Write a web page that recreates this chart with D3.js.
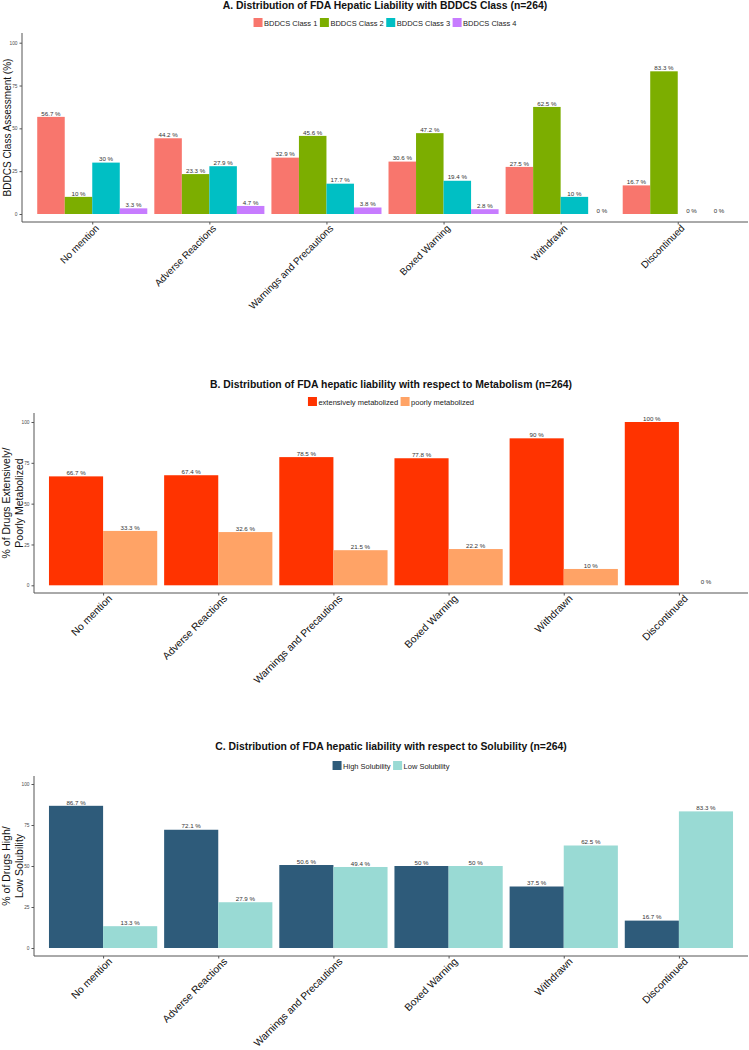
<!DOCTYPE html>
<html>
<head>
<meta charset="utf-8">
<script src="https://cdn.jsdelivr.net/npm/d3@7"></script>
<style>
html,body{margin:0;padding:0;background:#fff;}
svg{display:block;font-family:"Liberation Sans",Arial,Helvetica,sans-serif;}
</style>
</head>
<body>
<svg id="chart" width="749" height="1050"></svg>
<script>
const categories = ["No mention","Adverse Reactions","Warnings and Precautions","Boxed Warning","Withdrawn","Discontinued"];
const yTicks = [0,25,50,75,100];

const seriesA = ["BDDCS Class 1","BDDCS Class 2","BDDCS Class 3","BDDCS Class 4"];
const class1 = [56.7,44.2,32.9,30.6,27.5,16.7];
const class2 = [10,23.3,45.6,47.2,62.5,83.3];
const class3 = [30,27.9,17.7,19.4,10,0];
const class4 = [3.3,4.7,3.8,2.8,0,0];

const seriesB = ["extensively metabolized","poorly metabolized"];
const extensively = [66.7,67.4,78.5,77.8,90,100];
const poorly = [33.3,32.6,21.5,22.2,10,0];

const seriesC = ["High Solubility","Low Solubility"];
const highSol = [86.7,72.1,50.6,50,37.5,16.7];
const lowSol = [13.3,27.9,49.4,50,62.5,83.3];

const svg = d3.select("#chart");

function panel(cfg){
  const g = svg.append("g");
  const x = d3.scalePoint().domain(categories).range([cfg.left, cfg.right]).padding(0.6);
  const step = x.step();
  const gw = step*0.94;
  const xs = d3.scaleBand().domain(cfg.series).range([-gw/2, gw/2]).padding(0);
  const y = d3.scaleLinear().domain([0,100]).range([cfg.y0, cfg.y100]);
  const color = d3.scaleOrdinal().domain(cfg.series).range(cfg.colors);

  // title
  g.append("text").attr("x",(cfg.left+cfg.right)/2).attr("y",cfg.titleY)
    .attr("text-anchor","middle").attr("font-weight","bold").attr("font-size",cfg.titleSize)
    .attr("fill","#111").text(cfg.title);

  // legend
  const lg = g.append("g");
  let lx = 0;
  cfg.series.forEach(s=>{
    const it = lg.append("g").attr("transform",`translate(${lx},0)`);
    it.append("rect").attr("x",0).attr("y",cfg.legendY).attr("width",9).attr("height",9).attr("fill",color(s));
    const t = it.append("text").attr("x",10.5).attr("y",cfg.legendY+7.5).attr("font-size",7.5).attr("fill","#222").text(s);
    const w = t.node().getComputedTextLength();
    lx += 10.5 + w + 2.5;
  });
  const totalW = lx - 2.5;
  lg.attr("transform",`translate(${(cfg.left+cfg.right)/2 - totalW/2},0)`);

  // bars
  const rows = [];
  categories.forEach((c,i)=>{
    cfg.series.forEach((s,j)=>{ rows.push({c, s, v: cfg.values[j][i]}); });
  });
  g.append("g").selectAll("rect").data(rows).join("rect")
    .attr("x",d=>x(d.c)+xs(d.s))
    .attr("width",xs.bandwidth())
    .attr("y",d=>y(d.v))
    .attr("height",d=>y(0)-y(d.v))
    .attr("fill",d=>color(d.s));
  g.append("g").selectAll("text").data(rows).join("text")
    .attr("x",d=>x(d.c)+xs(d.s)+xs.bandwidth()/2)
    .attr("y",d=>y(d.v)-1.3)
    .attr("text-anchor","middle").attr("font-size",6.2).attr("fill","#333")
    .text(d=>d.v+" %");

  // axes
  const yAxis = d3.axisLeft(y).tickValues(yTicks).tickSize(2.5).tickPadding(2);
  const ya = g.append("g").attr("transform",`translate(${cfg.left},0)`).call(yAxis);
  ya.select(".domain").remove();
  ya.selectAll("line").attr("stroke","#555");
  ya.selectAll("text").attr("font-size",4.8).attr("fill","#4d4d4d").attr("font-family","inherit");
  g.append("line").attr("x1",cfg.left).attr("x2",cfg.left).attr("y1",cfg.axisTop).attr("y2",cfg.axisBottom)
    .attr("stroke","#555").attr("stroke-width",1);

  const xAxis = d3.axisBottom(x).tickSize(2.5).tickPadding(2);
  const xa = g.append("g").attr("transform",`translate(0,${cfg.axisBottom})`).call(xAxis);
  xa.select(".domain").remove();
  xa.selectAll("line").attr("stroke","#555");
  xa.selectAll("text").attr("font-size",cfg.xLabelSize).attr("fill","#111").attr("font-family","inherit")
    .attr("text-anchor","end")
    .attr("transform",`translate(${cfg.xLabelShift[0]},${cfg.xLabelShift[1]}) rotate(-45)`)
    .attr("y",0).attr("x",0).attr("dy","0.71em");
  g.append("line").attr("x1",cfg.left).attr("x2",cfg.right).attr("y1",cfg.axisBottom).attr("y2",cfg.axisBottom)
    .attr("stroke","#555").attr("stroke-width",1);

  // y title
  const cy = (cfg.axisTop+cfg.axisBottom)/2;
  cfg.yTitle.forEach((line,k)=>{
    g.append("text").attr("transform",`translate(${cfg.yTitleX[k]},${cy}) rotate(-90)`)
      .attr("text-anchor","middle").attr("font-size",cfg.yTitleSize).attr("fill","#111").text(line);
  });
}

panel({
  title:"A. Distribution of FDA Hepatic Liability with BDDCS Class (n=264)", titleY:8.5, titleSize:10.4,
  legendY:18, series:seriesA, colors:["#F8766D","#7CAE00","#00BFC4","#C77CFF"],
  values:[class1,class2,class3,class4],
  left:22, right:748, y0:214, y100:42.7, axisTop:33, axisBottom:222,
  xLabelSize:9.8, xLabelShift:[2,2], yTitle:["BDDCS Class Assessment (%)"], yTitleX:[11], yTitleSize:10
});

panel({
  title:"B. Distribution of FDA hepatic liability with respect to Metabolism (n=264)", titleY:388, titleSize:10.4,
  legendY:397, series:seriesB, colors:["#FF3300","#FFA366"],
  values:[extensively,poorly],
  left:34, right:748, y0:585.3, y100:422, axisTop:413, axisBottom:593,
  xLabelSize:10.3, xLabelShift:[4,1], yTitle:["% of Drugs Extensively/","Poorly Metabolized"], yTitleX:[9.5,22.5], yTitleSize:10.5
});

panel({
  title:"C. Distribution of FDA hepatic liability with respect to Solubility (n=264)", titleY:750, titleSize:10.4,
  legendY:761, series:seriesC, colors:["#2E5B7A","#99DAD4"],
  values:[highSol,lowSol],
  left:34, right:748, y0:948, y100:784, axisTop:776, axisBottom:956,
  xLabelSize:10.3, xLabelShift:[4,1], yTitle:["% of Drugs High/","Low Solubility"], yTitleX:[9.5,22.5], yTitleSize:10.5
});
</script>
</body>
</html>
